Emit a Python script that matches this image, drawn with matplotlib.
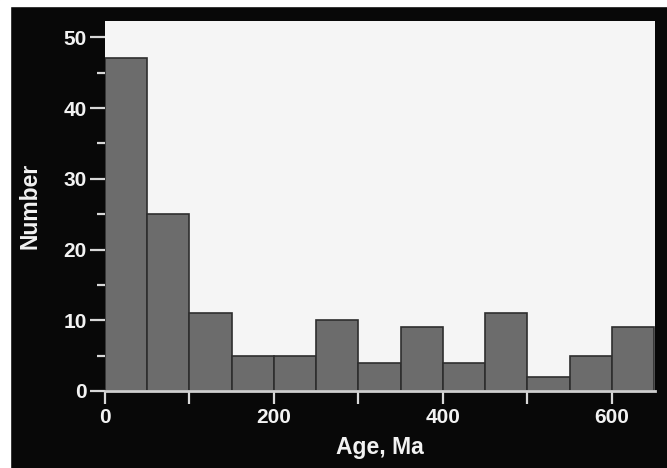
import numpy as np
import matplotlib as mpl
import matplotlib.pyplot as plt
from matplotlib.ticker import MultipleLocator

plt.rcParams.update({
    "font.family": "Liberation Sans",
    "font.size": 15,
    "font.weight": "bold",
    "axes.labelweight": "bold",
})

# histogram data (bins of 50 Ma)
bin_left = [0, 50, 100, 150, 200, 250, 300, 350, 400, 450, 500, 550, 600]
counts = [47, 25, 11, 5, 5, 10, 4, 9, 4, 11, 2, 5, 9]
bin_width = 50

fig = plt.figure(figsize=(6.67, 4.68), dpi=100, facecolor='#080808')
# thin white strip along top and left border of the scan
fig.patches.append(mpl.patches.Rectangle((0, 1 - 6/468), 1, 6/468, transform=fig.transFigure,
                                         color='white', zorder=0))
fig.patches.append(mpl.patches.Rectangle((0, 0), 10/667, 1, transform=fig.transFigure,
                                         color='white', zorder=0))

ax = fig.add_axes([105/667, 1 - 391/468, (655 - 105)/667, (391 - 21)/468])
ax.set_facecolor('#f5f5f5')
ax.bar(bin_left, counts, width=bin_width, align='edge', color='#6c6c6c',
       edgecolor='#2e2e2e', linewidth=1.2)

ax.set_xlim(0, 651)
ax.set_ylim(0, 52.3)
ax.xaxis.set_major_locator(MultipleLocator(200))
ax.xaxis.set_minor_locator(MultipleLocator(100))
ax.yaxis.set_major_locator(MultipleLocator(10))
ax.yaxis.set_minor_locator(MultipleLocator(5))

for s in ['top', 'right', 'left']:
    ax.spines[s].set_visible(False)
ax.spines['bottom'].set_color('#cfcfcf')
ax.spines['bottom'].set_linewidth(2)

ax.tick_params(axis='both', which='both', direction='out', colors='#d8d8d8',
               labelcolor='#f2f2f2', width=1.6)
ax.tick_params(axis='y', which='major', length=11, pad=2)
ax.tick_params(axis='y', which='minor', length=6)
ax.tick_params(axis='x', which='major', length=9, pad=3)
ax.tick_params(axis='x', which='minor', length=9)

ax.set_xlabel('Age, Ma', color='#f2f2f2', fontsize=16.5, labelpad=7)
ax.set_ylabel('Number', color='#f2f2f2', fontsize=16.5, labelpad=16)

plt.savefig('out.png', dpi=100, facecolor=fig.get_facecolor())
